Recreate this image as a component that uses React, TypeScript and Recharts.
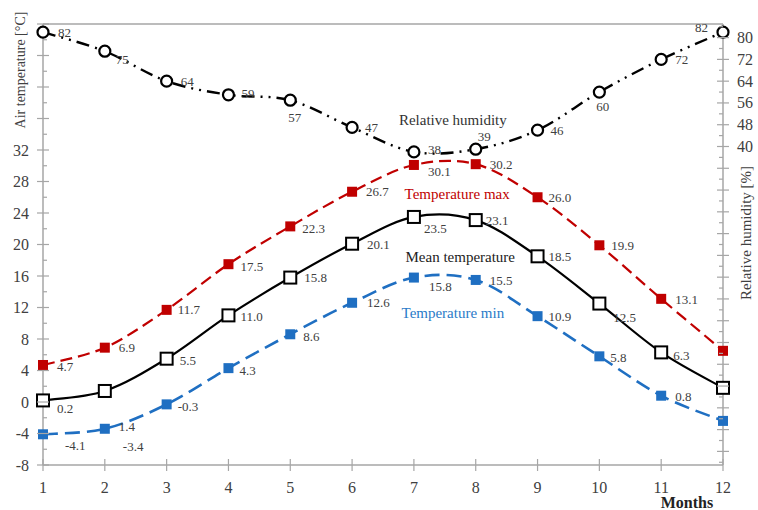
import React from "react";
import { LineChart, Line, XAxis, YAxis, ReferenceLine, ReferenceDot } from "recharts";

document.body.style.margin = "0";

const months = [1, 2, 3, 4, 5, 6, 7, 8, 9, 10, 11, 12];
const humidity = [82, 75, 64, 59, 57, 47, 38, 39, 46, 60, 72, 82];
const tempMax = [4.7, 6.9, 11.7, 17.5, 22.3, 26.7, 30.1, 30.2, 26.0, 19.9, 13.1, 6.5];
const tempMean = [0.2, 1.4, 5.5, 11.0, 15.8, 20.1, 23.5, 23.1, 18.5, 12.5, 6.3, 1.8];
const tempMin = [-4.1, -3.4, -0.3, 4.3, 8.6, 12.6, 15.8, 15.5, 10.9, 5.8, 0.8, -2.4];

const tempTicks = [-8, -6, -4, -2, 0, 2, 4, 6, 8, 10, 12, 14, 16, 18, 20, 22, 24, 26, 28, 30, 32, 34, 36, 38, 40, 42, 44, 46, 48];
const tempLabels = [-8, -4, 0, 4, 8, 12, 16, 20, 24, 28, 32];
const rhTicks = [-76, -72, -68, -64, -60, -56, -52, -48, -44, -40, -36, -32, -28, -24, -20, -16, -12, -8, -4, 0, 4, 8, 12, 16, 20, 24, 28, 32, 36, 40, 44, 48, 52, 56, 60, 64, 68, 72, 76, 80, 84];
const rhLabels = [40, 48, 56, 64, 72, 80];

const data = months.map((m, i) => ({
  month: m,
  rh: humidity[i],
  tmax: tempMax[i],
  tmean: tempMean[i],
  tmin: tempMin[i],
}));

// label offsets from each point (text start, vertical centre)
const rhOff = [[15, 0], [11, 8], [14, 0], [13, -1], [-2, 17], [13, 0], [14, -2], [2, -13], [13, 0], [-3, 14], [14, 0], [-28, -5]];
const maxOff = [[14, 2], [14, 0], [11, 0], [12, 2], [12, 2], [14, 0], [14, 7], [14, 0], [11, 0], [12, 0], [14, 1], null];
const meanOff = [[14, 8], [14, 36], [13, 2], [12, 1], [14, 0], [15, 1], [10, 12], [10, 0], [11, 0], [14, 14], [12, 3], null];
const minOff = [[22, 11], [18, 18], [11, 2], [11, 2], [13, 2], [15, 0], [15, 9], [14, 1], [11, 0], [11, 1], [14, 1], null];

const FONT = "'Liberation Serif', serif";
const AXIS = "#a6a6a6";
const TXT = "#404040";
const RED = "#c00000";
const BLUE = "#1f6fc2";

// Excel-like smoothing (catmull-rom style bezier)
function excelCurve(context: any) {
  let pts: number[][] = [];
  return {
    areaStart() {},
    areaEnd() {},
    lineStart() {
      pts = [];
    },
    point(x: number, y: number) {
      pts.push([+x, +y]);
    },
    lineEnd() {
      const n = pts.length;
      if (!n) return;
      context.moveTo(pts[0][0], pts[0][1]);
      for (let i = 0; i < n - 1; i++) {
        const p0 = pts[Math.max(i - 1, 0)];
        const p1 = pts[i];
        const p2 = pts[i + 1];
        const p3 = pts[Math.min(i + 2, n - 1)];
        context.bezierCurveTo(
          p1[0] + (p2[0] - p0[0]) / 6,
          p1[1] + (p2[1] - p0[1]) / 6,
          p2[0] - (p3[0] - p1[0]) / 6,
          p2[1] - (p3[1] - p1[1]) / 6,
          p2[0],
          p2[1]
        );
      }
    },
  };
}

const makeDot = (kind: string, color: string, values: number[], offsets: any[], digits: number) => (props: any) => {
  const { cx, cy, index } = props;
  if (cx == null || cy == null) return <g key={`${kind}-${index}`} />;
  const off = offsets[index];
  let marker;
  if (kind === "circle") {
    marker = <circle cx={cx} cy={cy} r={5.5} fill="#fff" stroke="#000" strokeWidth={2.2} />;
  } else if (kind === "open") {
    marker = <rect x={cx - 6} y={cy - 6} width={12} height={12} fill="#fff" stroke="#000" strokeWidth={2} />;
  } else {
    marker = <rect x={cx - 5} y={cy - 5} width={10} height={10} fill={color} />;
  }
  return (
    <g key={`${kind}-${index}`}>
      {marker}
      {off && (
        <text x={cx + off[0]} y={cy + off[1]} dominantBaseline="central" textAnchor="start" fontFamily={FONT} fontSize={13} fill={TXT}>
          {values[index].toFixed(digits)}
        </text>
      )}
    </g>
  );
};

const TempTick = (props: any) => {
  const { x, y, payload } = props;
  const v = payload.value;
  const major = v % 4 === 0;
  return (
    <g>
      <line x1={major ? x - 6 : x} x2={major ? x + 6 : x + 4} y1={y} y2={y} stroke={AXIS} strokeWidth={1.2} />
      {tempLabels.includes(v) && (
        <text x={x - 14} y={y} textAnchor="end" dominantBaseline="central" fontFamily={FONT} fontSize={16} fill={TXT}>
          {v}
        </text>
      )}
    </g>
  );
};

const RhTick = (props: any) => {
  const { x, y, payload } = props;
  const v = payload.value;
  const major = v % 8 === 0;
  return (
    <g>
      <line x1={major ? x - 6 : x - 4} x2={major ? x + 6 : x} y1={y} y2={y} stroke={AXIS} strokeWidth={1.2} />
      {rhLabels.includes(v) && (
        <text x={x + 14} y={y} textAnchor="start" dominantBaseline="central" fontFamily={FONT} fontSize={16} fill={TXT}>
          {v}
        </text>
      )}
    </g>
  );
};

const MonthTick = (props: any) => {
  const { x, y, payload } = props;
  return (
    <g>
      <line x1={x} x2={x} y1={y - 6} y2={y + 6} stroke={AXIS} strokeWidth={1.2} />
      <text x={x} y={y + 22} textAnchor="middle" dominantBaseline="central" fontFamily={FONT} fontSize={16} fill={TXT}>
        {payload.value}
      </text>
    </g>
  );
};

const seriesLabel = (value: string, color: string) => ({
  value,
  position: "center" as const,
  fill: color,
  fontFamily: FONT,
  fontSize: 15,
});

export default function App() {
  return (
    <div style={{ position: "relative", width: 758, height: 510, background: "#fff" }}>
      <LineChart width={758} height={510} data={data} margin={{ top: 24, right: 0, bottom: 0, left: 0 }}>
        <XAxis
          dataKey="month"
          type="number"
          domain={[1, 12]}
          ticks={months}
          xAxisId="m"
          height={45}
          stroke={AXIS}
          strokeWidth={1.5}
          tickLine={false}
          tickSize={0}
          tickMargin={0}
          tick={<MonthTick />}
        />
        <YAxis
          yAxisId="t"
          domain={[-8, 48]}
          ticks={tempTicks}
          width={43}
          stroke={AXIS}
          strokeWidth={1.5}
          tickLine={false}
          tickSize={0}
          tickMargin={0}
          interval={0}
          tick={<TempTick />}
        />
        <YAxis
          yAxisId="h"
          orientation="right"
          domain={[-77, 85]}
          ticks={rhTicks}
          width={35}
          stroke={AXIS}
          strokeWidth={1.5}
          tickLine={false}
          tickSize={0}
          tickMargin={0}
          interval={0}
          tick={<RhTick />}
        />
        <ReferenceLine xAxisId="m" yAxisId="t" y={48} stroke={AXIS} strokeWidth={1.5} />
        <Line
          xAxisId="m"
          yAxisId="t"
          dataKey="tmin"
          type={excelCurve as any}
          stroke={BLUE}
          strokeWidth={2.6}
          strokeDasharray="15 7"
          dot={makeDot("filled", BLUE, tempMin, minOff, 1)}
          activeDot={false}
          isAnimationActive={false}
        />
        <Line
          xAxisId="m"
          yAxisId="t"
          dataKey="tmax"
          type={excelCurve as any}
          stroke={RED}
          strokeWidth={2.2}
          strokeDasharray="12 6"
          dot={makeDot("filled", RED, tempMax, maxOff, 1)}
          activeDot={false}
          isAnimationActive={false}
        />
        <Line
          xAxisId="m"
          yAxisId="t"
          dataKey="tmean"
          type={excelCurve as any}
          stroke="#000"
          strokeWidth={2.2}
          dot={makeDot("open", "#000", tempMean, meanOff, 1)}
          activeDot={false}
          isAnimationActive={false}
        />
        <Line
          xAxisId="m"
          yAxisId="h"
          dataKey="rh"
          type={excelCurve as any}
          stroke="#000"
          strokeWidth={2.4}
          strokeDasharray="13 6 2 6 2 6"
          dot={makeDot("circle", "#000", humidity, rhOff, 0)}
          activeDot={false}
          isAnimationActive={false}
        />
        <ReferenceDot xAxisId="m" yAxisId="t" x={7.63} y={35.9} r={0} fill="none" stroke="none" label={seriesLabel("Relative humidity", "#333")} />
        <ReferenceDot xAxisId="m" yAxisId="t" x={7.7} y={26.5} r={0} fill="none" stroke="none" label={seriesLabel("Temperature max", RED)} />
        <ReferenceDot xAxisId="m" yAxisId="t" x={7.75} y={18.4} r={0} fill="none" stroke="none" label={seriesLabel("Mean temperature", "#222")} />
        <ReferenceDot xAxisId="m" yAxisId="t" x={7.63} y={11.3} r={0} fill="none" stroke="none" label={seriesLabel("Temperature min", "#2a7bc8")} />
      </LineChart>
      <svg width={758} height={510} style={{ position: "absolute", left: 0, top: 0, pointerEvents: "none" }}>
        <text x={20} y={70} transform="rotate(-90 20 70)" textAnchor="middle" dominantBaseline="central" fontFamily={FONT} fontSize={14} fill={TXT}>
          Air temperature [°C]
        </text>
        <text x={746} y={233} transform="rotate(-90 746 233)" textAnchor="middle" dominantBaseline="central" fontFamily={FONT} fontSize={15} fill={TXT}>
          Relative humidity [%]
        </text>
        <text x={687} y={502} textAnchor="middle" dominantBaseline="central" fontFamily={FONT} fontSize={16} fontWeight="bold" fill="#222">
          Months
        </text>
      </svg>
    </div>
  );
}
